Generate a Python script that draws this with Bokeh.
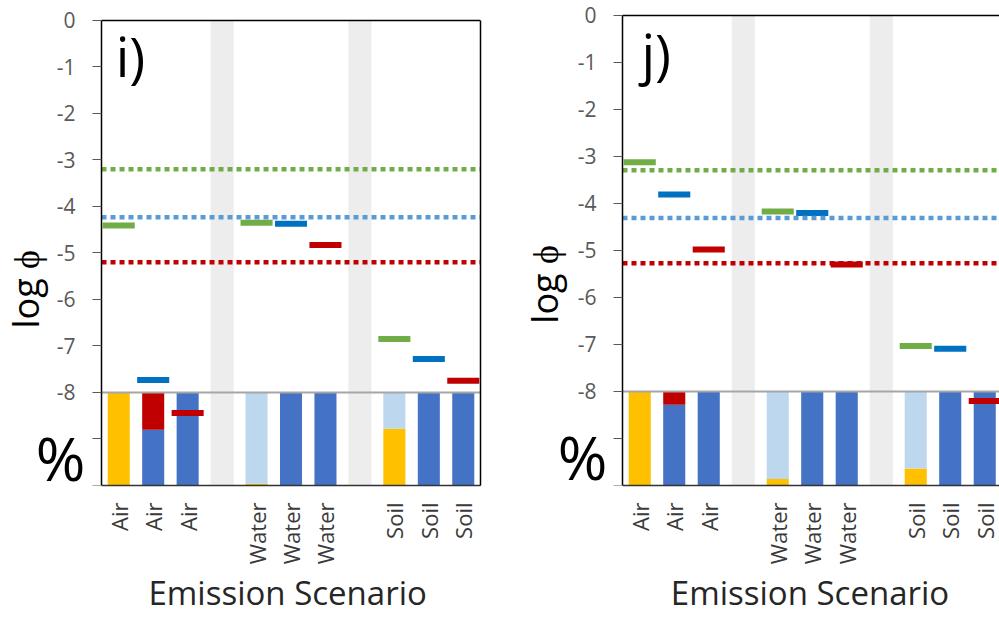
import numpy as np
from math import pi
from bokeh.plotting import figure
from bokeh.layouts import row
from bokeh.models import Range1d, FixedTicker, Label, LinearAxis
from bokeh.embed import file_html
from bokeh.resources import INLINE

# ---------------- data ----------------
scenarios = ["Air", "Air", "Air", "", "Water", "Water", "Water", "", "Soil", "Soil", "Soil"]
slots = list(range(len(scenarios)))
gap_slots = [3, 7]
marker_kind = ["green", "blue", "red", None, "green", "blue", "red", None, "green", "blue", "red"]

# panel i)
i_logphi = [-4.41, -7.73, -8.44, None, -4.35, -4.37, -4.83, None, -6.85, -7.28, -7.75]
i_limits = [-3.20, -4.23, -5.20]            # green, blue, red dotted lines
i_yellow = [100, 0, 0, 0, 2, 0, 0, 0, 61, 0, 0]
i_blue = [0, 60, 100, 0, 0, 100, 100, 0, 0, 100, 100]
i_lightblue = [0, 0, 0, 0, 98, 0, 0, 0, 39, 0, 0]
i_red = [0, 40, 0, 0, 0, 0, 0, 0, 0, 0, 0]

# panel j)
j_logphi = [-3.12, -3.81, -4.98, None, -4.17, -4.20, -5.30, None, -7.03, -7.09, -8.20]
j_limits = [-3.29, -4.31, -5.27]
j_yellow = [100, 0, 0, 0, 7, 0, 0, 0, 18, 0, 0]
j_blue = [0, 86, 100, 0, 0, 100, 100, 0, 0, 100, 100]
j_lightblue = [0, 0, 0, 0, 93, 0, 0, 0, 82, 0, 0]
j_red = [0, 14, 0, 0, 0, 0, 0, 0, 0, 0, 0]

y_ticks = [0, -1, -2, -3, -4, -5, -6, -7, -8, -9, -10]
y_tick_labels = ["0", "-1", "-2", "-3", "-4", "-5", "-6", "-7", "-8", "", ""]
x_title = "Emission Scenario"

# ---------------- styles ----------------
MARK_COL = {"green": "#70AD47", "blue": "#0070C0", "red": "#C00000"}
LIMIT_COL = ["#70AD47", "#5B9BD5", "#C00000"]
STACK_COL = ["#FFC000", "#4472C4", "#BDD7EE", "#C00000"]
FONT = "Open Sans"
PCT_TOP, PCT_BOTTOM = -8.0, -10.0
Y_TOP, Y_BOTTOM = 0.0, -10.0
X_FIRST = -0.5
NBSP = "\u00a0"


def pct_to_y(p):
    return PCT_BOTTOM + np.asarray(p, dtype=float) / 100.0 * (PCT_TOP - PCT_BOTTOM)


def make_panel(letter, logphi, limits, stacks, width, x_start, x_end, y_end, bb,
               letter_xy, ylab_xy, pct_xy, title_pad, right_border):
    p = figure(width=width, height=619, x_range=Range1d(x_start, x_end),
               y_range=Range1d(Y_BOTTOM, y_end), output_backend="svg",
               toolbar_location=None, min_border_left=0,
               min_border_right=(20 if right_border else 0),
               min_border_top=0, min_border_bottom=bb)
    p.outline_line_color = None
    p.grid.visible = False
    p.background_fill_color = "white"
    p.border_fill_color = "white"

    # grey separator columns
    p.vbar(x=gap_slots, top=Y_TOP, bottom=Y_BOTTOM, width=0.64, color="#EDEDED")

    # stacked percentage bars
    cum = np.zeros(len(slots))
    for vals, col in zip(stacks, STACK_COL):
        v = np.asarray(vals, dtype=float)
        bottom = pct_to_y(cum)
        top = pct_to_y(cum + v)
        mask = v > 0
        if mask.any():
            p.vbar(x=np.array(slots)[mask], bottom=bottom[mask], top=top[mask],
                   width=0.64, fill_color=col, line_color=None)
        cum = cum + v

    # log phi markers
    mx, my, mc = [], [], []
    for s, val, k in zip(slots, logphi, marker_kind):
        if val is not None:
            mx.append(s); my.append(val); mc.append(MARK_COL[k])
    p.rect(x=mx, y=my, width=0.93, height=6, height_units="screen",
           fill_color=mc, line_color=None)

    # -8 separator line
    p.segment(x0=X_FIRST, x1=x_end, y0=PCT_TOP, y1=PCT_TOP, line_color="#A6A6A6",
              line_width=2)

    # dotted limit lines
    n = len(limits)
    p.segment(x0=[X_FIRST] * n, x1=[x_end] * n, y0=limits, y1=limits,
              line_color=LIMIT_COL, line_width=4.5, line_dash="5 4", line_cap="butt")

    # top frame border
    p.segment(x0=X_FIRST, x1=x_end, y0=Y_TOP, y1=Y_TOP, line_color="black",
              line_width=1.5)

    # x axis
    xa = p.xaxis[0]
    xa.bounds = (X_FIRST, x_end)
    xa.ticker = FixedTicker(ticks=slots)
    xa.major_label_overrides = {s: lab for s, lab in zip(slots, scenarios)}
    xa.major_label_orientation = pi / 2
    xa.major_tick_line_color = None
    xa.major_tick_out = 0
    xa.major_tick_in = 0
    xa.minor_tick_line_color = None
    xa.minor_tick_out = 0
    xa.major_label_text_font = FONT
    xa.major_label_text_font_size = "22px"
    xa.major_label_text_color = "#3a3a3a"
    xa.major_label_standoff = 17
    xa.axis_line_color = "#333333"
    xa.axis_line_width = 1.5
    xa.axis_label = NBSP * title_pad + x_title
    xa.axis_label_text_font = FONT
    xa.axis_label_text_font_size = "33px"
    xa.axis_label_text_font_style = "normal"
    xa.axis_label_text_color = "#262626"
    xa.axis_label_standoff = 3

    # y axis, fixed at the left edge of the first slot
    ya = p.yaxis[0]
    ya.fixed_location = X_FIRST
    ya.bounds = (Y_BOTTOM, Y_TOP)
    ya.ticker = FixedTicker(ticks=y_ticks)
    ya.major_label_overrides = {t: lab for t, lab in zip(y_ticks, y_tick_labels)}
    ya.minor_tick_line_color = None
    ya.major_tick_out = 9
    ya.major_tick_in = 0
    ya.major_tick_line_color = "#595959"
    ya.major_tick_line_width = 1.2
    ya.major_label_standoff = 17
    ya.major_label_text_font = FONT
    ya.major_label_text_font_size = "21px"
    ya.major_label_text_color = "#595959"
    ya.axis_line_color = "black"
    ya.axis_line_width = 1.5

    if right_border:
        r_ax = LinearAxis(ticker=FixedTicker(ticks=[]), major_label_text_font_size="0px",
                          major_tick_line_color=None, minor_tick_line_color=None,
                          axis_line_color="black", axis_line_width=1.5,
                          major_label_standoff=0, bounds=(Y_BOTTOM, Y_TOP))
        p.add_layout(r_ax, "right")

    # texts
    p.add_layout(Label(x=letter_xy[0], y=letter_xy[1], text=letter, text_font=FONT,
                       text_font_size="54px", text_color="black",
                       text_align="left", text_baseline="alphabetic"))
    p.add_layout(Label(x=ylab_xy[0], y=ylab_xy[1], text="log ϕ", angle=pi / 2,
                       text_font=FONT, text_font_size="36px", text_color="black",
                       text_align="center", text_baseline="middle"))
    p.add_layout(Label(x=pct_xy[0], y=pct_xy[1], text="%", text_font=FONT,
                       text_font_size="60px", text_color="black",
                       text_align="center", text_baseline="middle"))
    return p


# slot width 34.45 px (i) / 34.5 px (j); first slot edge at 101 px / 122 px;
# 46.6 px (i) / 47 px (j) per log unit, 0 at 20 px / 15 px from the top
p_i = make_panel("i)", i_logphi, i_limits, [i_yellow, i_blue, i_lightblue, i_red],
                 width=500, x_start=-3.432, x_end=10.5, y_end=0.429, bb=133,
                 letter_xy=(-0.09, -0.77), ylab_xy=(-2.72, -5.78),
                 pct_xy=(-1.69, -9.40), title_pad=11, right_border=True)
p_j = make_panel("j)", j_logphi, j_limits, [j_yellow, j_blue, j_lightblue, j_red],
                 width=499, x_start=-4.036, x_end=10.428, y_end=0.319, bb=134,
                 letter_xy=(0.05, -0.80), ylab_xy=(-2.75, -5.72),
                 pct_xy=(-1.66, -9.40), title_pad=14, right_border=False)

layout = row(p_i, p_j)
open("out.html", "w").write(file_html(layout, INLINE))
